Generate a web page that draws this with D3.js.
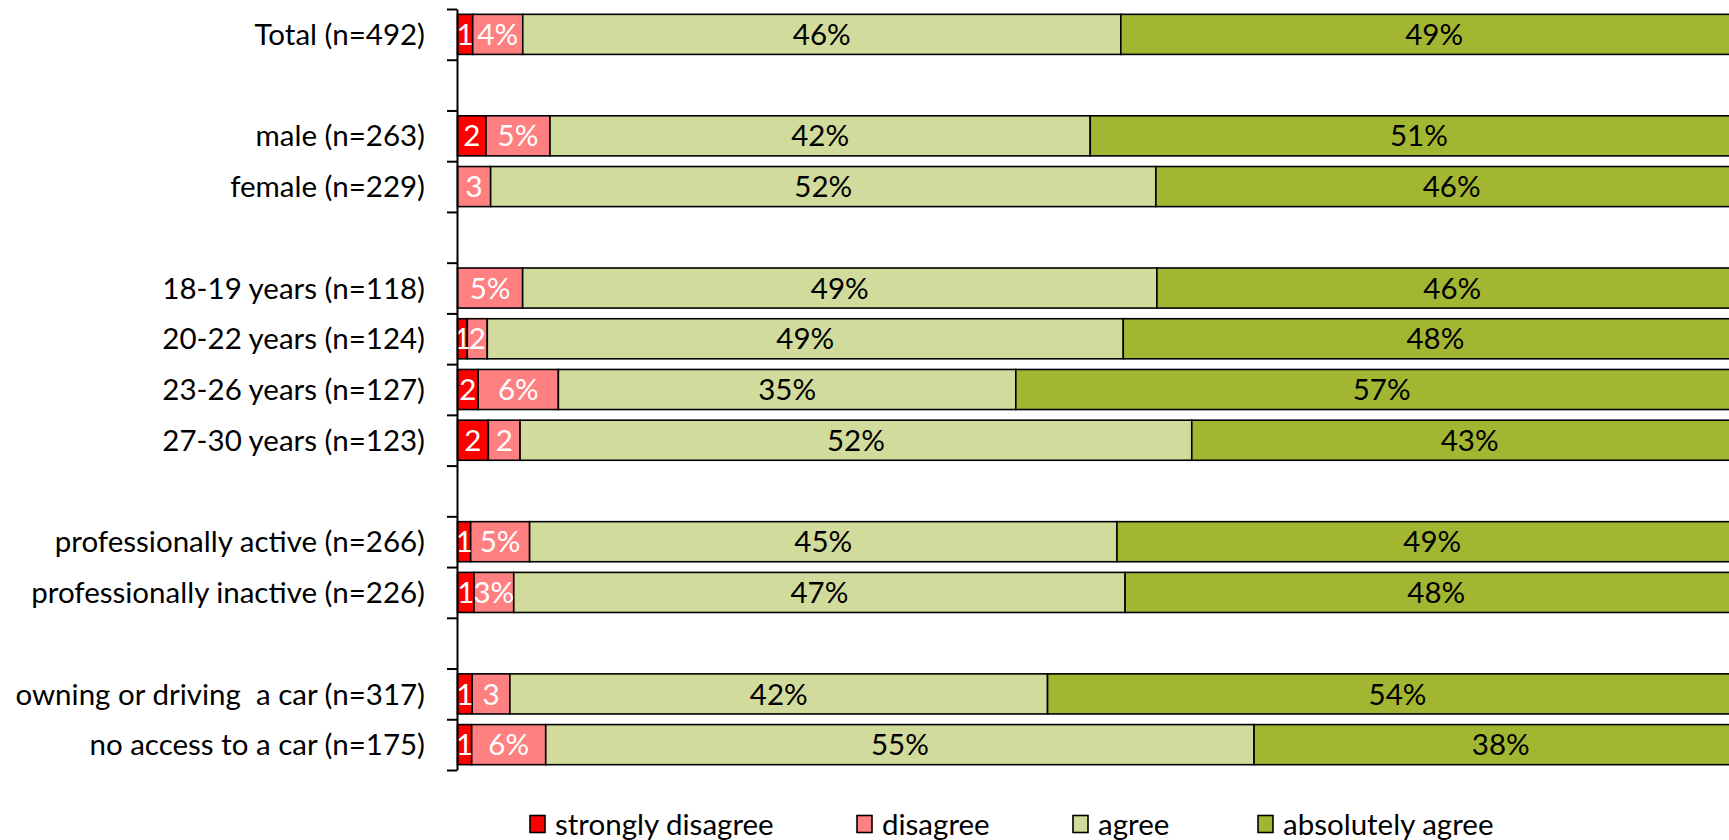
<!DOCTYPE html>
<html>
<head>
<meta charset="utf-8">
<script src="https://cdn.jsdelivr.net/npm/d3@7"></script>
<style>
  html, body { margin: 0; padding: 0; background: #fff; overflow: hidden; }
  svg { display: block; font-family: Lato, "Open Sans", sans-serif; }
  text { white-space: pre; }
</style>
</head>
<body>
<svg id="chart" width="1729" height="840"></svg>
<script>
// ---- data ----
const categories = ["Total (n=492)", "", "male (n=263)", "female (n=229)", "",
  "18-19 years (n=118)", "20-22 years (n=124)", "23-26 years (n=127)", "27-30 years (n=123)", "",
  "professionally active (n=266)", "professionally inactive (n=226)", "",
  "owning or driving  a car (n=317)", "no access to a car (n=175)"];
const seriesNames = ["strongly disagree", "disagree", "agree", "absolutely agree"];
const stronglyDisagree = [1.18, null, 2.21, 0, null, 0, 0.76, 1.6, 2.39, null, 1.02, 1.28, null, 1.14, 1.10];
const disagree         = [3.88, null, 4.96, 2.57, null, 5.05, 1.55, 6.22, 2.46, null, 4.57, 3.08, null, 2.92, 5.74];
const agree            = [46.36, null, 41.88, 51.57, null, 49.17, 49.30, 35.46, 52.07, null, 45.53, 47.39, null, 41.68, 54.91];
const absolutelyAgree  = [48.58, null, 50.95, 45.86, null, 45.78, 48.39, 56.72, 43.08, null, 48.88, 48.25, null, 54.26, 38.25];
const sdLabels  = ["1", "", "2", "", "", "", "1", "2", "2", "", "1", "1", "", "1", "1"];
const dLabels   = ["4%", "", "5%", "3", "", "5%", "2", "6%", "2", "", "5%", "3%", "", "3", "6%"];
const aLabels   = ["46%", "", "42%", "52%", "", "49%", "49%", "35%", "52%", "", "45%", "47%", "", "42%", "55%"];
const aaLabels  = ["49%", "", "51%", "46%", "", "46%", "48%", "57%", "43%", "", "49%", "48%", "", "54%", "38%"];

const colors = ["#FF0000", "#FF8080", "#D1DB9B", "#A3B631"];
const labelColors = ["#fff", "#fff", "#000", "#000"];

// ---- layout ----
const svg = d3.select("#chart");
const axisX = 457;
const plotTop = 9, plotBottom = 770;
const FS = 29.5;

const x = d3.scaleLinear().domain([0, 100]).range([axisX + 0.5, axisX + 1290.5]);
const y = d3.scaleBand().domain(d3.range(categories.length)).range([plotTop, plotBottom])
  .paddingInner(0.21).paddingOuter(0.105);
const yIdx = d3.scaleLinear().domain([0, categories.length]).range([plotTop, plotBottom]);

const seriesVals = [stronglyDisagree, disagree, agree, absolutelyAgree];
const seriesLabels = [sdLabels, dLabels, aLabels, aaLabels];

const rows = categories.map((c, i) => {
  let cum = 0;
  const segs = [];
  seriesVals.forEach((arr, s) => {
    const v = arr[i];
    if (v == null) return;
    segs.push({ s, x0: cum, x1: cum + v, label: seriesLabels[s][i], row: i });
    cum += v;
  });
  return { i, c, segs };
}).filter(r => r.segs.length);

const g = svg.append("g");
const rowG = g.selectAll("g.row").data(rows).join("g").attr("class", "row");

rowG.selectAll("rect").data(d => d.segs.filter(s => s.x1 - s.x0 > 0)).join("rect")
  .attr("x", d => x(d.x0))
  .attr("y", d => y(d.row))
  .attr("width", d => x(d.x1) - x(d.x0))
  .attr("height", y.bandwidth())
  .attr("fill", d => colors[d.s])
  .attr("stroke", "#000")
  .attr("stroke-width", 1.6);

rowG.selectAll("text").data(d => d.segs.filter(s => s.label)).join("text")
  .attr("x", d => (x(d.x0) + x(d.x1)) / 2)
  .attr("y", d => y(d.row) + y.bandwidth() / 2)
  .attr("dy", "0.36em")
  .attr("text-anchor", "middle")
  .attr("font-size", FS)
  .attr("fill", d => labelColors[d.s])
  .text(d => d.label);

// category labels
g.selectAll("text.cat").data(categories.map((c, i) => ({ c, i })).filter(d => d.c)).join("text")
  .attr("class", "cat")
  .attr("x", axisX - 32)
  .attr("y", d => y(d.i) + y.bandwidth() / 2)
  .attr("dy", "0.36em")
  .attr("text-anchor", "end")
  .attr("font-size", FS)
  .attr("fill", "#000")
  .text(d => d.c);

// axis
const axis = d3.axisLeft(yIdx).tickValues(d3.range(categories.length + 1))
  .tickFormat("").tickSize(10).tickSizeOuter(0);
const ag = svg.append("g").attr("transform", `translate(${axisX},0)`).call(axis);
ag.selectAll("path, line").attr("stroke", "#000").attr("stroke-width", 2);

// legend
const legendX = [529, 856, 1072, 1257];
const legendY = 824;
const lg = svg.append("g").selectAll("g").data(seriesNames).join("g")
  .attr("transform", (d, i) => `translate(${legendX[i]},${legendY})`);
lg.append("rect").attr("x", 1).attr("y", -8.5).attr("width", 15).attr("height", 17)
  .attr("fill", (d, i) => colors[i]).attr("stroke", "#000").attr("stroke-width", 1.6);
lg.append("text").attr("x", 26).attr("y", 0).attr("dy", "0.36em")
  .attr("font-size", FS).attr("fill", "#000").text(d => d);
</script>
</body>
</html>
